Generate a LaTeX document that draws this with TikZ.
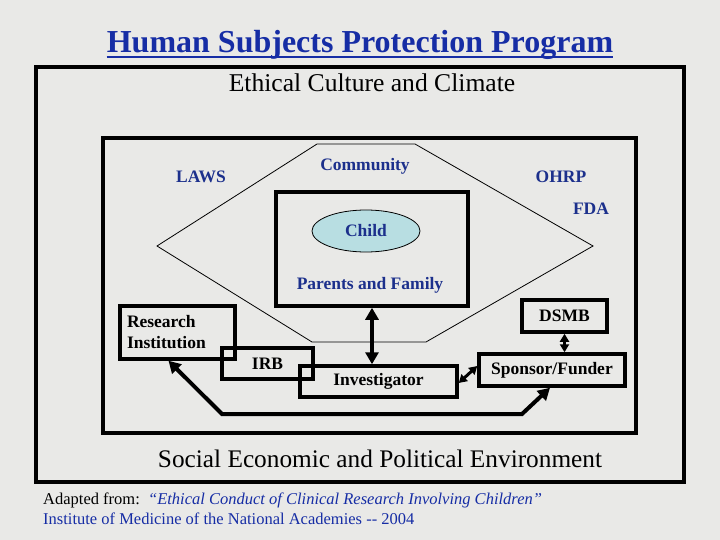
\documentclass[tikz,border=0pt]{standalone}
\usepackage{fontspec}
\setmainfont{Liberation Serif}
\usetikzlibrary{arrows.meta,shapes.geometric}
\definecolor{bg}{RGB}{233,233,231}
\definecolor{tblue}{RGB}{22,45,165}
\definecolor{lblue}{RGB}{28,48,140}
\definecolor{childfill}{RGB}{184,222,226}
\begin{document}
\begin{tikzpicture}[x=1pt,y=-1pt,
  frame/.style={draw=black,line width=3.5pt,inner sep=0pt},
  box/.style={draw=black,line width=3.5pt,inner sep=0pt,font=\fontsize{17.5}{21}\selectfont\bfseries},
  lbl/.style={text=lblue,font=\fontsize{17.5}{21}\selectfont\bfseries,inner sep=0pt},
  bigtext/.style={inner sep=0pt,font=\fontsize{25.6}{28}\selectfont},
  foot/.style={inner sep=0pt,font=\fontsize{16.5}{19}\selectfont},
  hexline/.style={draw=black,line width=0.8pt},
  bigarr/.style={line width=4pt,{Triangle[length=12pt,width=13pt]}-{Triangle[length=12pt,width=13pt]}},
  midarr/.style={line width=3pt,{Triangle[length=8pt,width=9pt]}-{Triangle[length=8pt,width=9pt]}}]
\fill[bg] (0,0) rectangle (720,540);
\useasboundingbox (0,0) rectangle (720,540);

% title
\node[inner sep=0pt,anchor=base,text=tblue,font=\fontsize{32}{36}\selectfont\bfseries] (title) at (360,53) {Human Subjects Protection Program};
\draw[tblue,line width=2.5pt] ([yshift=-4pt]title.base west) -- ([yshift=-4pt]title.base east);

% frames
\node[frame,minimum width=648pt,minimum height=415pt] (outer) at (360,274.5) {};
\node[frame,minimum width=533pt,minimum height=295pt] (inner) at (369.5,285.5) {};
\node[bigtext,anchor=base] (ethical) at (372,92) {Ethical Culture and Climate};
\node[bigtext,anchor=base,font=\fontsize{25.3}{28}\selectfont] (social) at (380,467) {Social Economic and Political Environment};

% hexagon
\draw[hexline] (317,144) -- (415,144) -- (593,246) -- (426,342) -- (312,342) -- (157,246) -- cycle;

% labels
\node[lbl] (laws) at (201,177) {LAWS};
\node[lbl] (community) at (365,166) {Community};
\node[lbl] (ohrp) at (561,177) {OHRP};
\node[lbl] (fda) at (591,209) {FDA};

% parents box and child
\node[frame,minimum width=192pt,minimum height=114pt] (par) at (372,249) {};
\node[draw=black,line width=0.8pt,fill=childfill,ellipse,minimum width=108pt,minimum height=42pt,inner sep=0pt,text=lblue,font=\fontsize{17.5}{21}\selectfont\bfseries] (child) at (366,231) {Child};
\node[lbl] (family) at (370,285) {Parents and Family};

% boxes
\node[box,minimum width=115pt,minimum height=53pt,text width=101pt,align=left] (ri) at (177.5,332.5) {Research\\Institution};
\node[box,minimum width=91pt,minimum height=31pt] (irb) at (267.5,363.5) {IRB\hspace{8pt}};
\node[box,minimum width=157pt,minimum height=31pt] (inv) at (378.5,381.5) {Investigator};
\node[box,minimum width=146pt,minimum height=32pt] (sp) at (552,370) {Sponsor/Funder};
\node[box,minimum width=85pt,minimum height=32pt] (dsmb) at (564.5,316) {DSMB};

% connectors
\draw[bigarr] (par.south) -- (par.south |- inv.north);
\draw[midarr] (dsmb.south) -- (dsmb.south |- sp.north);
\draw[midarr] ([yshift=-1.5pt]inv.east) -- ([yshift=4pt]sp.west);
\coordinate (b1) at (522,414);
\coordinate (b2) at (222,414);
\draw[bigarr] ([xshift=-2pt]sp.south) -- (b1) -- (b2) -- ([xshift=-9pt]ri.south);

% footer
\node[foot,anchor=base west] (src1) at (43,504) {Adapted from:\ \ {\color{tblue}\itshape “Ethical Conduct of Clinical Research Involving Children”}};
\node[foot,anchor=base west,text=tblue] (src2) at (43,524) {Institute of Medicine of the National Academies -{}- 2004};
\end{tikzpicture}
\end{document}
